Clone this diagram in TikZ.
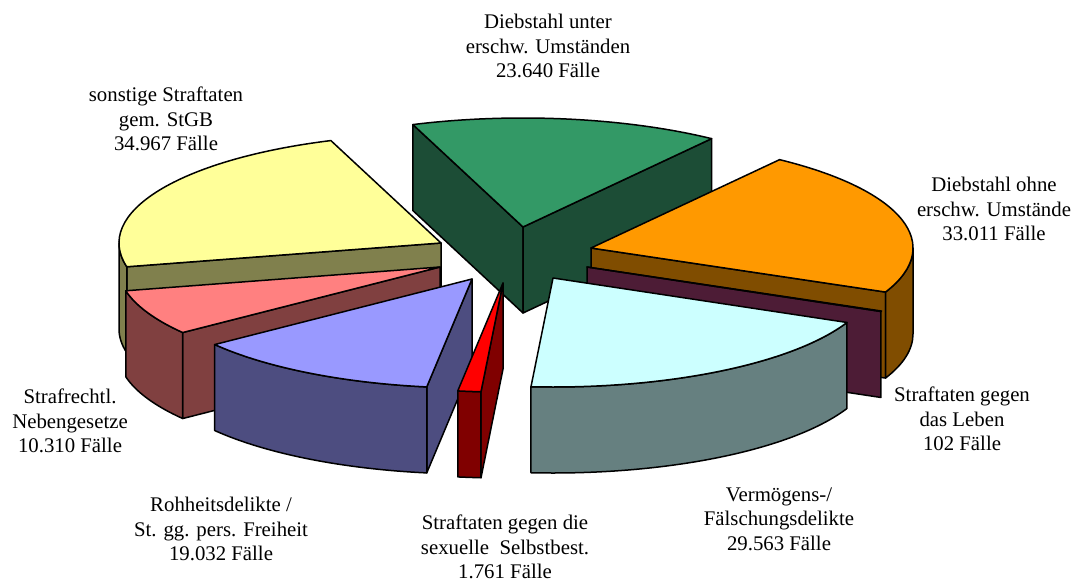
\documentclass[tikz,border=0pt]{standalone}
\usepackage{fontspec}
\setmainfont{Liberation Serif}
\usetikzlibrary{calc}
\definecolor{gTop}{RGB}{51,153,102}\definecolor{gSide}{RGB}{28,77,54}
\definecolor{oTop}{RGB}{255,153,0}\definecolor{oSide}{RGB}{128,77,0}
\definecolor{lSide}{RGB}{77,28,54}\definecolor{lTop}{RGB}{153,51,102}
\definecolor{vTop}{RGB}{204,255,255}\definecolor{vSide}{RGB}{102,128,128}
\definecolor{xTop}{RGB}{255,0,0}\definecolor{xSide}{RGB}{128,0,0}
\definecolor{rTop}{RGB}{153,153,255}\definecolor{rSide}{RGB}{77,77,128}
\definecolor{nTop}{RGB}{255,128,128}\definecolor{nSide}{RGB}{128,64,64}
\definecolor{sTop}{RGB}{255,255,153}\definecolor{sSide}{RGB}{128,128,77}
\newcommand\radface[3]{%
  \filldraw[fill=#3] (#1) -- ($(#1)+(#2:322 and 109)$) -- ++(0,-86) -- ($(#1)+(0,-86)$) -- cycle;}
\newcommand\outface[4]{%
  \filldraw[fill=#4] ($(#1)+(#2:322 and 109)$) arc[start angle=#2, end angle=#3, x radius=322, y radius=109] -- ++(0,-86) arc[start angle=#3, end angle=#2, x radius=322, y radius=109] -- cycle;}
\newcommand\topface[4]{%
  \filldraw[fill=#4] (#1) -- ($(#1)+(#2:322 and 109)$) arc[start angle=#2, end angle=#3, x radius=322, y radius=109] -- cycle;}
\begin{document}
\begin{tikzpicture}[x=0.5pt,y=0.5pt,line width=0.75pt,line join=round,
  lab/.style={align=center,font=\fontsize{10.4pt}{12.2pt}\selectfont,inner sep=0pt}]
\useasboundingbox (0,0) rectangle (1080,-583);
\coordinate (G) at (523,-227);
\coordinate (S) at (441,-243);
\coordinate (O) at (591,-248);
\coordinate (L) at (587,-267);
\coordinate (N) at (440,-267);
\coordinate (R) at (472,-279);
\coordinate (V) at (553,-278);
\coordinate (X) at (503,-283);
% green
\radface{G}{110}{gSide}
\radface{G}{54.15}{gSide}
\topface{G}{110}{54.15}{gTop}
% sonstige
\radface{S}{-167.40}{sSide}
\outface{S}{-167.40}{-180}{sSide}
\topface{S}{-167.40}{-250}{sTop}
% orange
\radface{O}{-23.84}{oSide}
\outface{O}{0}{-23.84}{oSide}
\topface{O}{54.15}{-23.84}{oTop}
% Leben
\radface{L}{-24.08}{lSide}
\topface{L}{-23.84}{-24.08}{lTop}
% Neben
\radface{N}{-143.04}{nSide}
\outface{N}{-143.04}{-167.40}{nSide}
\topface{N}{-143.04}{-167.40}{nTop}
% Rohheit
\radface{R}{-98.08}{rSide}
\outface{R}{-98.08}{-143.04}{rSide}
\topface{R}{-98.08}{-143.04}{rTop}
% Vermoegens
\outface{V}{-24.08}{-93.92}{vSide}
\topface{V}{-24.08}{-93.92}{vTop}
% sexuelle
\radface{X}{-93.92}{xSide}
\outface{X}{-93.92}{-98.08}{xSide}
\topface{X}{-93.92}{-98.08}{xTop}
% labels
\node[lab] (t1) at (548,-46) {Diebstahl unter\\erschw. Umständen\\23.640 Fälle};
\node[lab] (t2) at (994,-209) {Diebstahl ohne\\erschw. Umstände\\33.011 Fälle};
\node[lab] (t3) at (962,-419) {Straftaten gegen\\das Leben\\102 Fälle};
\node[lab] (t4) at (779,-519) {Vermögens-/\\Fälschungsdelikte\\29.563 Fälle};
\node[lab] (t5) at (505,-547) {Straftaten gegen die\\sexuelle~~Selbstbest.\\1.761 Fälle};
\node[lab] (t6) at (221,-529) {Rohheitsdelikte /\\St. gg. pers. Freiheit\\19.032 Fälle};
\node[lab] (t7) at (70,-421) {Strafrechtl.\\Nebengesetze\\10.310 Fälle};
\node[lab] (t8) at (166,-119) {sonstige Straftaten\\gem. StGB\\34.967 Fälle};
\end{tikzpicture}
\end{document}
